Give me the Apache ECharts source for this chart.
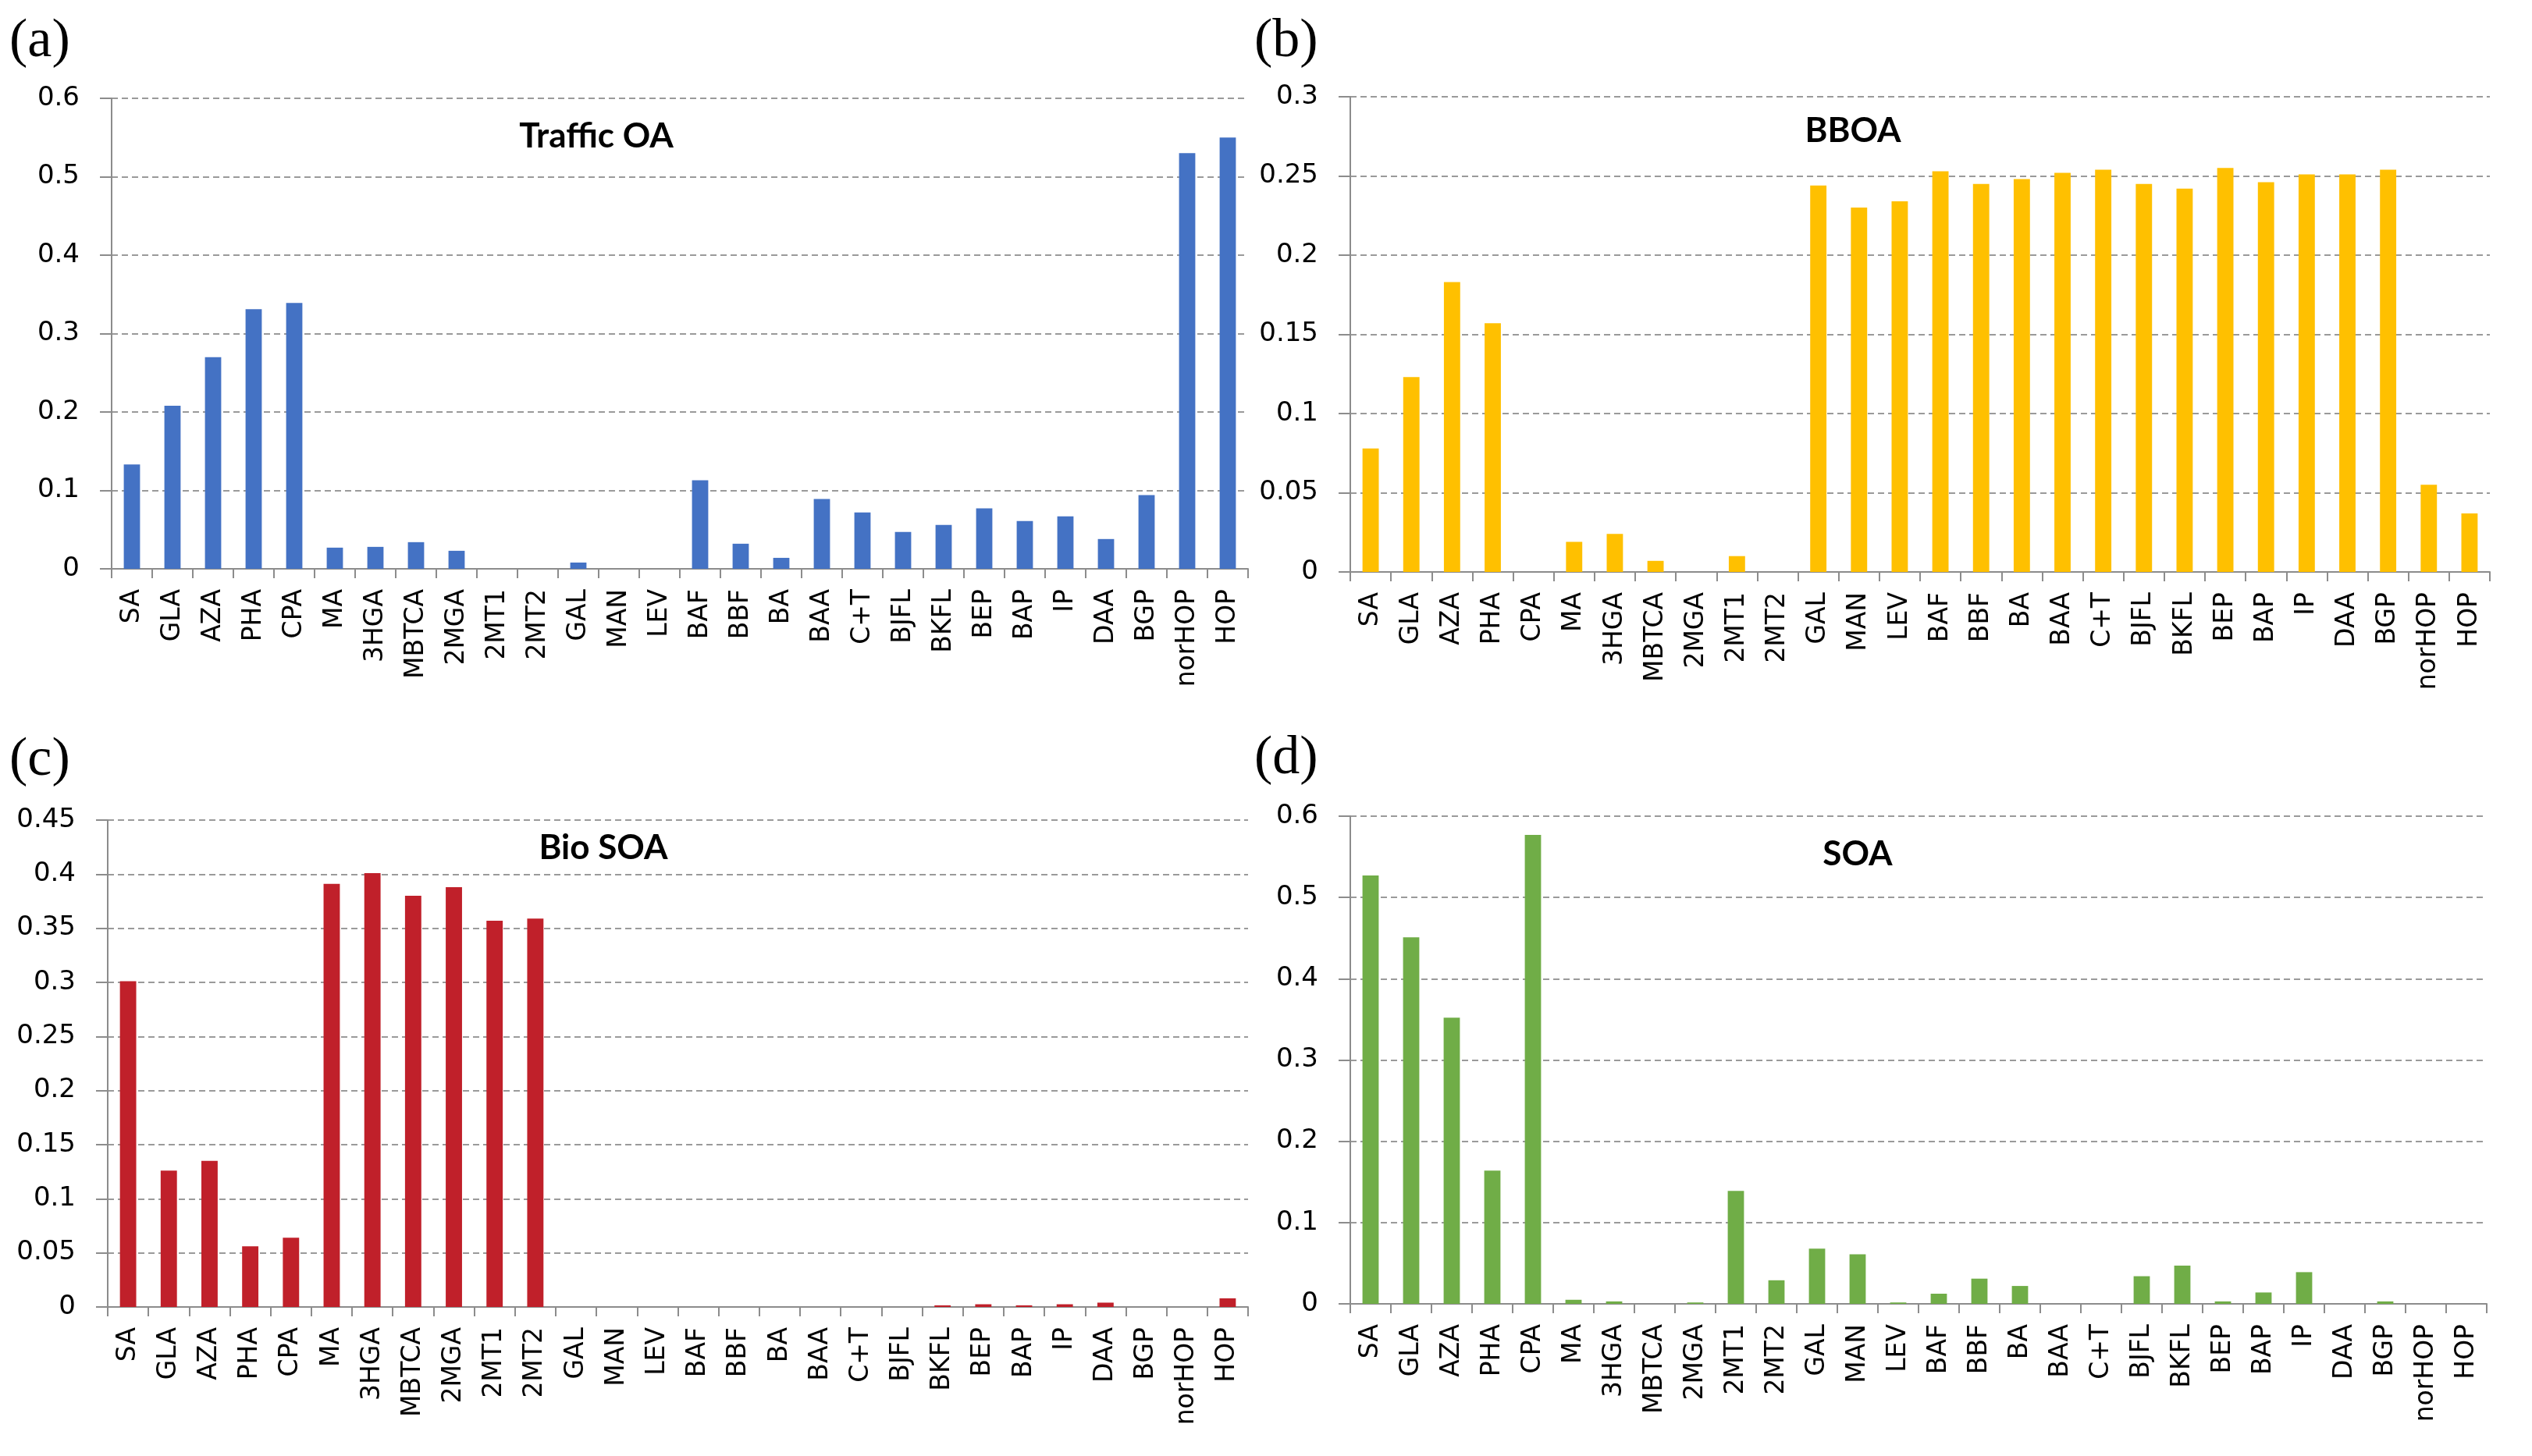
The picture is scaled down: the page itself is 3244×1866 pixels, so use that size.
<!DOCTYPE html>
<html>
<head>
<meta charset="utf-8">
<script src="https://cdn.jsdelivr.net/npm/echarts@6/dist/echarts.min.js"></script>
<style>
html,body{margin:0;padding:0;background:#fff;}
#chart{width:3244px;height:1866px;}
</style>
</head>
<body>
<div id="chart"></div>
<script>
// ---- data ----
const categories = ["SA","GLA","AZA","PHA","CPA","MA","3HGA","MBTCA","2MGA","2MT1","2MT2","GAL","MAN","LEV","BAF","BBF","BA","BAA","C+T","BJFL","BKFL","BEP","BAP","IP","DAA","BGP","norHOP","HOP"];
const trafficOA = [0.133,0.208,0.270,0.331,0.339,0.027,0.028,0.034,0.023,0,0,0.008,0,0,0.113,0.032,0.014,0.089,0.072,0.047,0.056,0.077,0.061,0.067,0.038,0.094,0.530,0.550];
const bboa = [0.078,0.123,0.183,0.157,0,0.019,0.024,0.007,0,0.010,0,0.244,0.230,0.234,0.253,0.245,0.248,0.252,0.254,0.245,0.242,0.255,0.246,0.251,0.251,0.254,0.055,0.037];
const bioSOA = [0.301,0.126,0.135,0.056,0.064,0.391,0.401,0.380,0.388,0.357,0.359,0,0,0,0,0,0,0,0,0,0.0015,0.0025,0.0015,0.0025,0.004,0,0,0.008];
const soa = [0.527,0.451,0.352,0.164,0.577,0.005,0.003,0,0.0017,0.139,0.029,0.068,0.061,0.0017,0.0125,0.031,0.022,0,0,0.034,0.047,0.003,0.014,0.039,0,0.003,0,0];

const panelTitles = ["Traffic OA","BBOA","Bio SOA","SOA"];
const panelLetters = ["(a)","(b)","(c)","(d)"];
const yMax = [0.6,0.3,0.45,0.6];
const yInterval = [0.1,0.05,0.05,0.1];
const colors = ["#4472C4","#FFC000","#C0202A","#70AD47"];
const seriesData = [trafficOA,bboa,bioSOA,soa];

// ---- layout ----
const grids = [
  {left:143, top:126, width:1456, height:603},
  {left:1730, top:124, width:1460, height:609},
  {left:138, top:1051, width:1461, height:624},
  {left:1730, top:1046, width:1456, height:625}
];
const titlePos = [[764,175],[2374,168],[773,1087],[2380,1095]];
const letterPos = [[12,54],[1607,54],[12,975],[1607,973]];

const gridLine = {show:true, lineStyle:{color:"#9a9a9a", width:2, type:[8,5]}};
const axisColor = "#8c8c8c";

const option = {
  backgroundColor:"#ffffff",
  animation:false,
  grid: grids.map(g => Object.assign({containLabel:false}, g)),
  xAxis: grids.map((g,i) => ({
    type:"category", gridIndex:i, data:categories, boundaryGap:true,
    axisLine:{show:true, lineStyle:{color:axisColor, width:2}},
    axisTick:{show:true, length:12, alignWithLabel:false, lineStyle:{color:axisColor, width:2}},
    axisLabel:{show:true, interval:0, rotate:90, margin:26, color:"#000",
      fontFamily:"DejaVu Sans", fontSize:33},
    splitLine:{show:false}
  })),
  yAxis: grids.map((g,i) => ({
    type:"value", gridIndex:i, min:0, max:yMax[i], interval:yInterval[i],
    axisLine:{show:true, lineStyle:{color:axisColor, width:2}},
    axisTick:{show:true, length:15, lineStyle:{color:axisColor, width:2}},
    axisLabel:{show:true, margin:41, color:"#000", fontFamily:"DejaVu Sans", fontSize:34,
      formatter: v => String(Math.round(v*1000)/1000)},
    splitLine: gridLine
  })),
  series: seriesData.map((d,i) => ({
    type:"bar", xAxisIndex:i, yAxisIndex:i, data:d, barWidth:"40%",
    itemStyle:{color:colors[i]}
  })),
  graphic: [
    ...panelTitles.map((t,i) => ({
      type:"text", x:titlePos[i][0], y:titlePos[i][1], z:100,
      style:{text:t, fill:"#000", font:"bold 44px Lato", textAlign:"center", textVerticalAlign:"middle"}
    })),
    ...panelLetters.map((t,i) => ({
      type:"text", x:letterPos[i][0], y:letterPos[i][1], z:100,
      style:{text:t, fill:"#000", font:"70px 'Liberation Serif'", textAlign:"left", textVerticalAlign:"middle"}
    }))
  ]
};

const chart = echarts.init(document.getElementById("chart"), null, {renderer:"canvas"});
chart.setOption(option);
</script>
</body>
</html>
